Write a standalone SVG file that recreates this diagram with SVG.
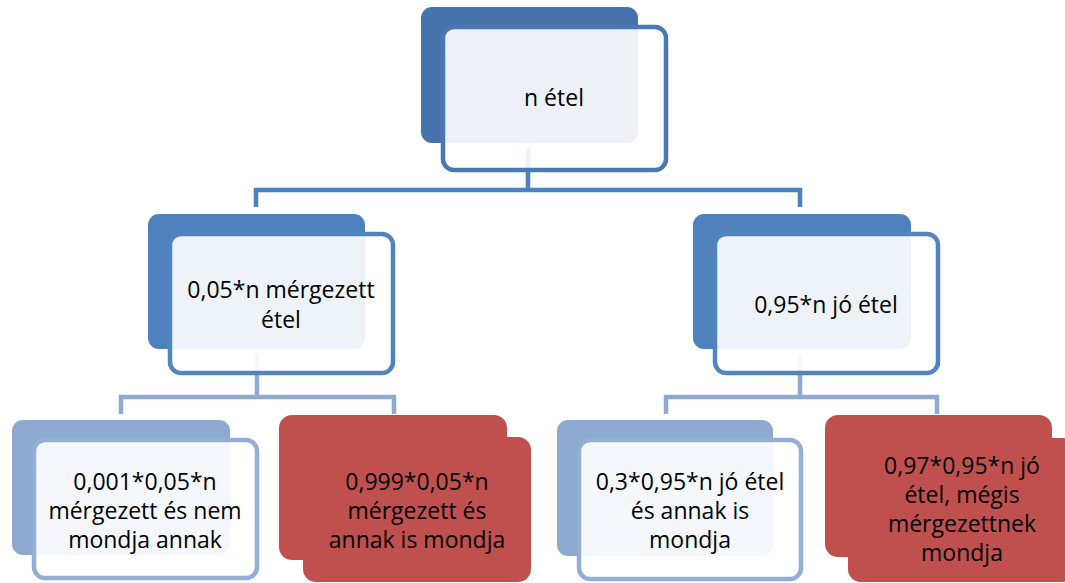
<svg xmlns="http://www.w3.org/2000/svg" width="1065" height="583" viewBox="0 0 1065 583">
<style>
.t{font-family:"Open Sans","Liberation Sans",Arial,sans-serif;font-size:23px;fill:#000;text-anchor:middle}
.c1{fill:none;stroke:#4F81BD;stroke-width:4.5}
.c2{fill:none;stroke:#8FAAD2;stroke-width:4.5}
.front{fill:#fff;fill-opacity:0.9;stroke-width:4.5}
</style>
<rect width="1065" height="583" fill="#fff"/>
<g id="connectors">
<path class="c1" d="M528,148 V190"/>
<path class="c1" d="M256,207 V190 H800 V207"/>
<path class="c2" d="M257,354 V397"/>
<path class="c2" d="M121,414 V397 H394 V414"/>
<path class="c2" d="M800,354 V397"/>
<path class="c2" d="M666,414 V397 H937 V414"/>
</g>
<g id="node-top">
<rect x="421" y="7" width="217" height="136" rx="11" fill="#4673AC"/>
<rect class="front" x="443" y="27" width="223" height="143" rx="11" stroke="#4A78B2"/>
<text class="t" x="554" y="106">n étel</text>
</g>
<g id="node-mid-left">
<rect x="148" y="214" width="217" height="135" rx="11" fill="#4F81BD"/>
<rect class="front" x="170" y="234" width="223" height="139" rx="11" stroke="#5284C0"/>
<text class="t" x="281" y="298">0,05*n mérgezett</text>
<text class="t" x="281" y="328">étel</text>
</g>
<g id="node-mid-right">
<rect x="693" y="214" width="218" height="135" rx="11" fill="#4F81BD"/>
<rect class="front" x="715" y="234" width="223" height="139" rx="11" stroke="#5284C0"/>
<text class="t" x="826" y="313">0,95*n jó étel</text>
</g>
<g id="node-bottom-1">
<rect x="12" y="420" width="218" height="135" rx="11" fill="#8EA9CF"/>
<rect class="front" x="34" y="440" width="223" height="138" rx="11" stroke="#93AFD6"/>
<text class="t" x="145" y="490">0,001*0,05*n</text>
<text class="t" x="145" y="519">mérgezett és nem</text>
<text class="t" x="145" y="548">mondja annak</text>
</g>
<g id="node-bottom-2">
<rect x="279" y="415" width="228" height="145" rx="13" fill="#C0504D"/>
<rect x="303" y="437" width="228" height="145" rx="13" fill="#C0504D"/>
<text class="t" x="417" y="490">0,999*0,05*n</text>
<text class="t" x="417" y="519">mérgezett és</text>
<text class="t" x="417" y="548">annak is mondja</text>
</g>
<g id="node-bottom-3">
<rect x="557" y="420" width="216" height="136" rx="11" fill="#8EA9CF"/>
<rect class="front" x="579" y="440" width="222" height="139" rx="11" stroke="#93AFD6"/>
<text class="t" x="690" y="490">0,3*0,95*n jó étel</text>
<text class="t" x="690" y="519">és annak is</text>
<text class="t" x="690" y="548">mondja</text>
</g>
<g id="node-bottom-4">
<rect x="825" y="415" width="227" height="142" rx="13" fill="#C0504D"/>
<rect x="848" y="438" width="228" height="144" rx="13" fill="#C0504D"/>
<text class="t" x="962" y="474">0,97*0,95*n jó</text>
<text class="t" x="962" y="503">étel, mégis</text>
<text class="t" x="962" y="532">mérgezettnek</text>
<text class="t" x="962" y="561">mondja</text>
</g>
</svg>
